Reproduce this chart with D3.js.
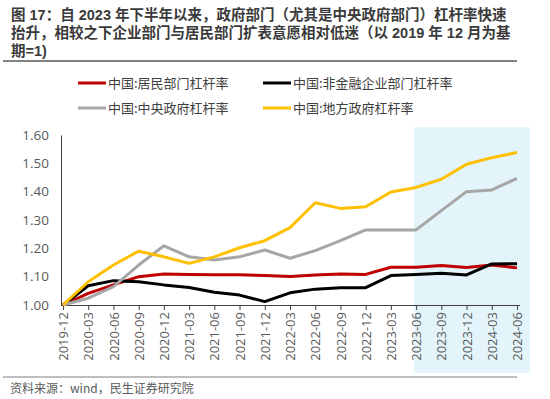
<!DOCTYPE html>
<html>
<head>
<meta charset="utf-8">
<script src="https://cdn.jsdelivr.net/npm/d3@7"></script>
<style>
  body { margin: 0; background: #fff; }
  svg text { font-family: "Noto Sans CJK SC", "Noto Sans", sans-serif; }
</style>
</head>
<body>
<svg id="chart"></svg>
<script>
// data (2019-12 = 1)
var dates = ['2019-12','2020-03','2020-06','2020-09','2020-12','2021-03','2021-06','2021-09','2021-12',
             '2022-03','2022-06','2022-09','2022-12','2023-03','2023-06','2023-09','2023-12','2024-03','2024-06'];
var household = [1.00,1.041,1.071,1.100,1.109,1.108,1.107,1.107,1.104,1.101,1.106,1.109,1.108,1.133,1.133,1.139,1.132,1.141,1.131];
var corporate = [1.00,1.068,1.086,1.082,1.071,1.062,1.045,1.035,1.012,1.043,1.056,1.061,1.061,1.104,1.108,1.112,1.106,1.145,1.146];
var central   = [1.00,1.024,1.065,1.141,1.209,1.170,1.159,1.170,1.194,1.165,1.192,1.227,1.265,1.265,1.265,1.333,1.400,1.406,1.447];
var local     = [1.00,1.082,1.141,1.190,1.170,1.147,1.170,1.202,1.227,1.273,1.361,1.341,1.347,1.399,1.415,1.444,1.497,1.520,1.538];
var yTicks = [1.00,1.10,1.20,1.30,1.40,1.50,1.60];
var highlightFrom = '2023-06';

var title = ['图 17：自 2023 年下半年以来，政府部门（尤其是中央政府部门）杠杆率快速',
             '抬升，相较之下企业部门与居民部门扩表意愿相对低迷（以 2019 年 12 月为基',
             '期=1)'];
var source = '资料来源：wind，民生证券研究院';

var series = [
  {name:'中国:居民部门杠杆率', values:household, color:'#C00000'},
  {name:'中国:非金融企业部门杠杆率', values:corporate, color:'#000000'},
  {name:'中国:中央政府杠杆率', values:central, color:'#A6A6A6'},
  {name:'中国:地方政府杠杆率', values:local, color:'#FFC000'}
];

var width = 550, height = 399;
var svg = d3.select('#chart').attr('width', width).attr('height', height);

// title, one line per text
svg.selectAll('.title').data(title).enter().append('text')
  .attr('class', 'title')
  .attr('x', 11)
  .attr('y', function(d, i){ return 20 + i*18; })
  .attr('font-size', '14.5px')
  .attr('font-weight', 'bold')
  .attr('fill', '#3a3a3a')
  .style('font-family', '"Liberation Sans", "Noto Sans CJK SC", sans-serif')
  .text(function(d){ return d; });
svg.append('line')
  .attr('x1', 3).attr('x2', 517).attr('y1', 61).attr('y2', 61)
  .attr('stroke', '#595959').attr('stroke-width', 1.5);

var x = d3.scalePoint().domain(dates).range([63, 517]);
var y = d3.scaleLinear().domain([1, 1.6]).range([305, 135]);

// highlight band
svg.append('rect')
  .attr('x', x(highlightFrom) - 2)
  .attr('y', 127)
  .attr('width', 530 - (x(highlightFrom) - 2))
  .attr('height', 246)
  .attr('fill', '#E3F4FB');

// legend
var legPos = [[78, 83], [263, 83], [78, 108], [263, 108]];
series.forEach(function(s, i){
  var p = legPos[i];
  svg.append('line')
    .attr('x1', p[0]).attr('x2', p[0] + 28)
    .attr('y1', p[1]).attr('y2', p[1])
    .attr('stroke', s.color).attr('stroke-width', 3);
  svg.append('text')
    .attr('x', p[0] + 30).attr('y', p[1] + 4.5)
    .attr('font-size', '13px')
    .attr('fill', '#404040')
    .text(s.name);
});

// y axis
var yAxis = svg.append('g')
  .attr('transform', 'translate(61,0)')
  .call(d3.axisLeft(y).tickValues(yTicks).tickSize(0).tickPadding(12).tickFormat(d3.format('.2f')));
yAxis.select('.domain').attr('stroke', '#404040');
yAxis.selectAll('text').attr('font-size', '13.5px').attr('fill', '#595959')
  .style('font-family', '"Open Sans", "Noto Sans", sans-serif');

// x axis
var xAxis = svg.append('g')
  .attr('transform', 'translate(0,305)')
  .call(d3.axisBottom(x).tickSize(5).tickSizeOuter(0));
xAxis.select('.domain').attr('d', 'M61,0.5H520').attr('stroke', '#404040');
xAxis.selectAll('.tick line').attr('stroke', '#404040');
xAxis.selectAll('text')
  .attr('font-size', '13px').attr('fill', '#595959')
  .style('font-family', '"Open Sans", "Noto Sans", sans-serif')
  .attr('text-anchor', 'end')
  .attr('transform', 'rotate(-90)')
  .attr('x', -7).attr('y', 0).attr('dy', '0.35em');

// lines
var line = d3.line()
  .x(function(d, i){ return x(dates[i]); })
  .y(function(d){ return y(d); });
series.forEach(function(s){
  svg.append('path')
    .datum(s.values)
    .attr('d', line)
    .attr('fill', 'none')
    .attr('stroke', s.color)
    .attr('stroke-width', 3)
    .attr('stroke-linejoin', 'round');
});

// source
svg.append('line')
  .attr('x1', 3).attr('x2', 517).attr('y1', 377).attr('y2', 377)
  .attr('stroke', '#7f7f7f').attr('stroke-width', 1.2);
svg.append('text')
  .attr('x', 10).attr('y', 393)
  .attr('font-size', '12px')
  .attr('fill', '#595959')
  .text(source);
</script>
</body>
</html>
